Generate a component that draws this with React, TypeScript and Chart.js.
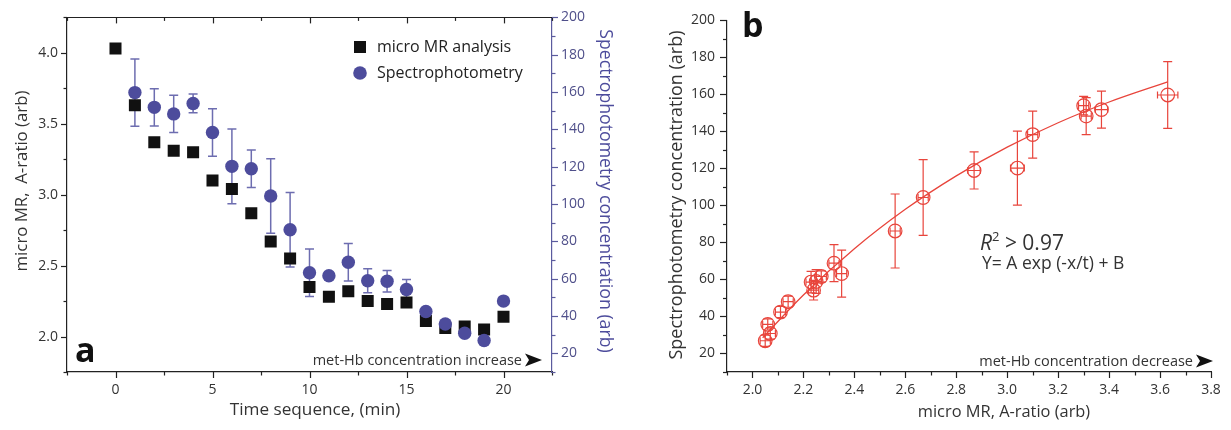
import React, { useEffect, useRef } from "react";
import { Chart, registerables } from "chart.js";
Chart.register(...registerables);

// ---------- Panel a data ----------
const timeMin = [0, 1, 2, 3, 4, 5, 6, 7, 8, 9, 10, 11, 12, 13, 14, 15, 16, 17, 18, 19, 20];
const microMR = [4.03, 3.63, 3.37, 3.31, 3.30, 3.10, 3.04, 2.87, 2.67, 2.55, 2.35, 2.28, 2.32, 2.25, 2.23, 2.24, 2.11, 2.06, 2.07, 2.05, 2.14];
const spectro = [null, 159.7, 151.8, 148.3, 153.9, 138.3, 120.2, 118.9, 104.3, 86.2, 63.2, 61.6, 68.8, 58.9, 58.6, 54.2, 42.4, 35.7, 30.8, 26.9, 48.0];
const spectroErr = [0, 18, 10, 10, 5, 12.7, 20, 10, 20, 20, 12.7, 0, 10, 6.4, 5.8, 5.3, 0, 0, 0, 0, 0];

const aXTicks = [0, 5, 10, 15, 20];
const aYTicks = [2.0, 2.5, 3.0, 3.5, 4.0];
const aY2Ticks = [20, 40, 60, 80, 100, 120, 140, 160, 180, 200];

// ---------- Panel b data ----------
const bMR = [3.63, 3.37, 3.31, 3.30, 3.10, 3.04, 2.87, 2.67, 2.56, 2.35, 2.27, 2.32, 2.25, 2.23, 2.24, 2.11, 2.06, 2.07, 2.05, 2.14];
const bSpec = [159.7, 151.8, 148.3, 153.9, 138.3, 120.2, 118.9, 104.3, 86.2, 63.2, 61.6, 68.8, 58.9, 58.6, 54.2, 42.4, 35.7, 30.8, 26.9, 48.0];
const bSpecErr = [18, 10, 10, 5, 12.7, 20, 10, 20.5, 20, 12.7, 3, 10, 6.4, 5.8, 5.3, 3, 3, 3, 3, 3];
const bMRErr = [0.04, 0.024, 0.02, 0.02, 0.02, 0.027, 0.024, 0.02, 0.02, 0.02, 0.02, 0.02, 0.02, 0.02, 0.02, 0.02, 0.02, 0.02, 0.02, 0.02];

const fitX = [2.04, 2.2, 2.4, 2.6, 2.8, 3.0, 3.2, 3.4, 3.63];
const fitY = [28.5, 51.6, 76.6, 97.9, 116.0, 131.5, 144.7, 155.9, 166.8];

const bXTicks = [2.0, 2.2, 2.4, 2.6, 2.8, 3.0, 3.2, 3.4, 3.6, 3.8];
const bYTicks = [20, 40, 60, 80, 100, 120, 140, 160, 180, 200];

// ---------- styles ----------
const FONT = "'Open Sans', 'Noto Sans', 'DejaVu Sans', sans-serif";
const INK = "#222222";
const LABEL = "#333333";
const PURPLE = "#4d4c9c";
const PURPLE_AXIS = "#5b5b9e";
const PURPLE_ERR = "#6d6db0";
const RED = "#e8453c";

function minorTicks(majors: number[], min: number, max: number): number[] {
  const res: number[] = [];
  const step = majors[1] - majors[0];
  const first = majors[0] - step / 2;
  if (first >= min - 1e-9) res.push(first);
  for (let i = 0; i < majors.length - 1; i++) res.push((majors[i] + majors[i + 1]) / 2);
  const last = majors[majors.length - 1] + step / 2;
  if (last <= max + 1e-9) res.push(last);
  return res;
}

function drawAxisTicks(chart: any, scaleId: string, side: string, majors: number[], majorLen: number, minorLen: number, color: string) {
  const scale = chart.scales[scaleId];
  const area = chart.chartArea;
  const ctx = chart.ctx as CanvasRenderingContext2D;
  const minors = minorTicks(majors, scale.min, scale.max);
  ctx.save();
  ctx.strokeStyle = color;
  ctx.lineWidth = 1.2;
  const one = (v: number, len: number) => {
    const p = Math.round(scale.getPixelForValue(v)) + 0.5;
    ctx.beginPath();
    if (side === "left") { ctx.moveTo(area.left, p); ctx.lineTo(area.left - len, p); }
    else if (side === "right") { ctx.moveTo(area.right, p); ctx.lineTo(area.right + len, p); }
    else if (side === "bottom") { ctx.moveTo(p, area.bottom); ctx.lineTo(p, area.bottom + len); }
    else { ctx.moveTo(p, area.top); ctx.lineTo(p, area.top + len); }
    ctx.stroke();
  };
  majors.forEach((v) => one(v, majorLen));
  minors.forEach((v) => one(v, minorLen));
  ctx.restore();
}

function drawArrowText(ctx: CanvasRenderingContext2D, text: string, rightX: number, cy: number) {
  ctx.save();
  ctx.font = `14.5px ${FONT}`;
  ctx.fillStyle = LABEL;
  ctx.textAlign = "right";
  ctx.textBaseline = "alphabetic";
  ctx.fillText(text, rightX - 20, cy + 5);
  const x0 = rightX - 17;
  ctx.fillStyle = "#111";
  ctx.beginPath();
  ctx.moveTo(x0, cy - 6.5);
  ctx.lineTo(x0 + 17, cy);
  ctx.lineTo(x0, cy + 6.5);
  ctx.lineTo(x0 + 4, cy);
  ctx.closePath();
  ctx.fill();
  ctx.restore();
}

function rotatedText(ctx: CanvasRenderingContext2D, text: string, cx: number, cy: number, angle: number, font: string, color: string) {
  ctx.save();
  ctx.translate(cx, cy);
  ctx.rotate(angle);
  ctx.font = font;
  ctx.fillStyle = color;
  ctx.textAlign = "center";
  ctx.textBaseline = "middle";
  ctx.fillText(text, 0, 0);
  ctx.restore();
}

function setTicks(values: number[]) {
  return (scale: any) => {
    scale.ticks = values.map((v) => ({ value: v }));
  };
}

const panelAPlugin = {
  id: "panelA",
  beforeDatasetsDraw(chart: any) {
    const ctx = chart.ctx as CanvasRenderingContext2D;
    const xs = chart.scales.x;
    const ys = chart.scales.y2;
    ctx.save();
    ctx.strokeStyle = PURPLE_ERR;
    ctx.lineWidth = 1.5;
    timeMin.forEach((t, i) => {
      const v = spectro[i];
      const e = spectroErr[i];
      if (v == null || !e) return;
      const x = xs.getPixelForValue(t);
      const y1 = ys.getPixelForValue(v + e);
      const y2 = ys.getPixelForValue(v - e);
      ctx.beginPath();
      ctx.moveTo(x, y1); ctx.lineTo(x, y2);
      ctx.moveTo(x - 4.5, y1); ctx.lineTo(x + 4.5, y1);
      ctx.moveTo(x - 4.5, y2); ctx.lineTo(x + 4.5, y2);
      ctx.stroke();
    });
    ctx.restore();
  },
  afterDraw(chart: any) {
    const ctx = chart.ctx as CanvasRenderingContext2D;
    const area = chart.chartArea;
    // top frame line
    ctx.save();
    ctx.strokeStyle = INK;
    ctx.lineWidth = 1.2;
    ctx.beginPath();
    ctx.moveTo(area.left, Math.round(area.top) + 0.5);
    ctx.lineTo(area.right, Math.round(area.top) + 0.5);
    ctx.stroke();
    ctx.restore();
    drawAxisTicks(chart, "y", "left", aYTicks, 6, 3.5, INK);
    drawAxisTicks(chart, "x", "bottom", aXTicks, 6, 3.5, INK);
    drawAxisTicks(chart, "x", "top", aXTicks, 6, 3.5, INK);
    drawAxisTicks(chart, "y2", "right", aY2Ticks, 6, 3.5, PURPLE_AXIS);

    // axis titles
    rotatedText(ctx, "micro MR,  A-ratio (arb)", 22, 181, -Math.PI / 2, `16.8px ${FONT}`, LABEL);
    rotatedText(ctx, "Spectrophotometry concentration (arb)", 605, 191, Math.PI / 2, `17.7px ${FONT}`, PURPLE);
    rotatedText(ctx, "Time sequence, (min)", 315, 410, 0, `17.2px ${FONT}`, LABEL);

    // panel letter
    ctx.save();
    ctx.font = `bold 34px ${FONT}`;
    ctx.fillStyle = "#111";
    ctx.textAlign = "left";
    ctx.textBaseline = "alphabetic";
    ctx.fillText("a", 75, 362);
    ctx.restore();

    drawArrowText(ctx, "met-Hb concentration increase", 542, 360);

    // legend
    ctx.save();
    ctx.fillStyle = "#111";
    ctx.fillRect(354, 41, 12, 12);
    ctx.fillStyle = PURPLE;
    ctx.beginPath();
    ctx.arc(360, 73, 6.8, 0, Math.PI * 2);
    ctx.fill();
    ctx.font = `16px ${FONT}`;
    ctx.fillStyle = INK;
    ctx.textAlign = "left";
    ctx.textBaseline = "middle";
    ctx.fillText("micro MR analysis", 377, 47);
    ctx.fillText("Spectrophotometry", 377, 73);
    ctx.restore();
  },
};

const panelBPlugin = {
  id: "panelB",
  afterDatasetsDraw(chart: any) {
    const ctx = chart.ctx as CanvasRenderingContext2D;
    const xs = chart.scales.x;
    const ys = chart.scales.y;
    ctx.save();
    ctx.strokeStyle = RED;
    ctx.fillStyle = RED;
    ctx.lineWidth = 1.2;
    bMR.forEach((m, i) => {
      const x = xs.getPixelForValue(m);
      const y = ys.getPixelForValue(bSpec[i]);
      const ey = bSpecErr[i];
      const ex = bMRErr[i];
      const y1 = ys.getPixelForValue(bSpec[i] + ey);
      const y2 = ys.getPixelForValue(bSpec[i] - ey);
      const x1 = xs.getPixelForValue(m - ex);
      const x2 = xs.getPixelForValue(m + ex);
      ctx.beginPath();
      ctx.moveTo(x, y1); ctx.lineTo(x, y2);
      ctx.moveTo(x - 4.5, y1); ctx.lineTo(x + 4.5, y1);
      ctx.moveTo(x - 4.5, y2); ctx.lineTo(x + 4.5, y2);
      ctx.moveTo(x1, y); ctx.lineTo(x2, y);
      ctx.moveTo(x1, y - 3.5); ctx.lineTo(x1, y + 3.5);
      ctx.moveTo(x2, y - 3.5); ctx.lineTo(x2, y + 3.5);
      ctx.stroke();
    });
    ctx.restore();
  },
  afterDraw(chart: any) {
    const ctx = chart.ctx as CanvasRenderingContext2D;
    drawAxisTicks(chart, "y", "left", bYTicks, 7, 4, INK);
    drawAxisTicks(chart, "x", "bottom", bXTicks, 6, 3.5, INK);

    const off = 620;
    rotatedText(ctx, "Spectrophotometry concentration (arb)", 677 - off, 195, -Math.PI / 2, `18px ${FONT}`, LABEL);
    rotatedText(ctx, "micro MR, A-ratio (arb)", 1004 - off, 412, 0, `16.4px ${FONT}`, LABEL);

    ctx.save();
    ctx.font = `bold 34px ${FONT}`;
    ctx.fillStyle = "#111";
    ctx.textAlign = "left";
    ctx.textBaseline = "alphabetic";
    ctx.fillText("b", 742 - off, 37);
    ctx.restore();

    drawArrowText(ctx, "met-Hb concentration decrease", 1213 - off, 361);

    // fit annotation
    ctx.save();
    ctx.fillStyle = LABEL;
    ctx.textAlign = "left";
    ctx.textBaseline = "alphabetic";
    let x = 980 - off;
    ctx.font = `italic 21px ${FONT}`;
    ctx.fillText("R", x, 250);
    x += ctx.measureText("R").width;
    ctx.font = `13px ${FONT}`;
    ctx.fillText("2", x, 241);
    x += ctx.measureText("2").width;
    ctx.font = `21px ${FONT}`;
    ctx.fillText(" > 0.97", x, 250);
    ctx.font = `17.5px ${FONT}`;
    ctx.fillText("Y= A exp (-x/t) + B", 982 - off, 269);
    ctx.restore();
  },
};

const tickFont = { size: 14, family: FONT };

export default function App() {
  const refA = useRef<HTMLCanvasElement>(null);
  const refB = useRef<HTMLCanvasElement>(null);

  useEffect(() => {
    const squares = timeMin.map((t, i) => ({ x: t, y: microMR[i] }));
    const circles = timeMin
      .map((t, i) => ({ x: t, y: spectro[i] }))
      .filter((p) => p.y != null);

    const chartA = new Chart(refA.current!, {
      type: "scatter",
      data: {
        datasets: [
          {
            label: "Spectrophotometry",
            data: circles as any,
            yAxisID: "y2",
            pointStyle: "circle",
            pointRadius: 6.7,
            backgroundColor: PURPLE,
            borderWidth: 0,
            order: 1,
          },
          {
            label: "micro MR analysis",
            data: squares,
            yAxisID: "y",
            pointStyle: "rect",
            pointRadius: 8.5,
            backgroundColor: "#111111",
            borderWidth: 0,
            order: 2,
          },
        ],
      },
      options: {
        responsive: false,
        animation: false,
        layout: { padding: { top: 12, left: 0, right: 0, bottom: 0 } },
        plugins: { legend: { display: false }, tooltip: { enabled: false } },
        scales: {
          x: {
            type: "linear",
            position: "bottom",
            min: -2.5,
            max: 22.5,
            afterBuildTicks: setTicks(aXTicks),
            afterFit: (s: any) => { s.height = 58; },
            grid: { display: false, drawTicks: false },
            border: { display: true, color: INK, width: 1.2 },
            ticks: { padding: 10, font: tickFont, color: LABEL, callback: (v: any) => String(v) },
          },
          y: {
            type: "linear",
            position: "left",
            min: 1.75,
            max: 4.25,
            afterBuildTicks: setTicks(aYTicks),
            afterFit: (s: any) => { s.width = 67; },
            grid: { display: false, drawTicks: false },
            border: { display: true, color: INK, width: 1.2 },
            ticks: { padding: 9, font: tickFont, color: LABEL, callback: (v: any) => Number(v).toFixed(1) },
          },
          y2: {
            type: "linear",
            position: "right",
            min: 10,
            max: 200,
            afterBuildTicks: setTicks(aY2Ticks),
            afterFit: (s: any) => { s.width = 68; },
            grid: { display: false, drawTicks: false },
            border: { display: true, color: PURPLE_AXIS, width: 1.2 },
            ticks: { padding: 9, font: tickFont, color: "#4f4f8a", callback: (v: any) => String(v) },
          },
        },
      } as any,
      plugins: [panelAPlugin],
    });

    const chartB = new Chart(refB.current!, {
      type: "scatter",
      data: {
        datasets: [
          {
            type: "line",
            label: "fit",
            data: fitX.map((x, i) => ({ x, y: fitY[i] })),
            borderColor: RED,
            borderWidth: 1.3,
            pointRadius: 0,
            showLine: true,
            cubicInterpolationMode: "monotone",
            fill: false,
            order: 2,
          } as any,
          {
            label: "data",
            data: bMR.map((m, i) => ({ x: m, y: bSpec[i] })),
            pointStyle: "circle",
            pointRadius: 6.8,
            backgroundColor: "rgba(255,255,255,0)",
            borderColor: RED,
            borderWidth: 1.2,
            order: 1,
          },
        ],
      },
      options: {
        responsive: false,
        animation: false,
        layout: { padding: { top: 12, left: 0, right: 20, bottom: 0 } },
        plugins: { legend: { display: false }, tooltip: { enabled: false } },
        scales: {
          x: {
            type: "linear",
            position: "bottom",
            min: 1.9,
            max: 3.8,
            afterBuildTicks: setTicks(bXTicks),
            afterFit: (s: any) => { s.height = 58; },
            grid: { display: false, drawTicks: false },
            border: { display: true, color: INK, width: 1.2 },
            ticks: { padding: 10, font: tickFont, color: LABEL, callback: (v: any) => Number(v).toFixed(1) },
          },
          y: {
            type: "linear",
            position: "left",
            min: 10,
            max: 200,
            afterBuildTicks: setTicks(bYTicks),
            afterFit: (s: any) => { s.width = 107; },
            grid: { display: false, drawTicks: false },
            border: { display: true, color: INK, width: 1.2 },
            ticks: { padding: 12, font: tickFont, color: LABEL, callback: (v: any) => String(v) },
          },
        },
      } as any,
      plugins: [panelBPlugin],
    });

    return () => {
      chartA.destroy();
      chartB.destroy();
    };
  }, []);

  return (
    <div style={{ position: "absolute", left: 0, top: 0, width: 1231, height: 430, background: "#ffffff", overflow: "hidden" }}>
      <canvas ref={refA} width={620} height={430} style={{ position: "absolute", left: 0, top: 0 }} />
      <canvas ref={refB} width={611} height={430} style={{ position: "absolute", left: 620, top: 0 }} />
    </div>
  );
}
